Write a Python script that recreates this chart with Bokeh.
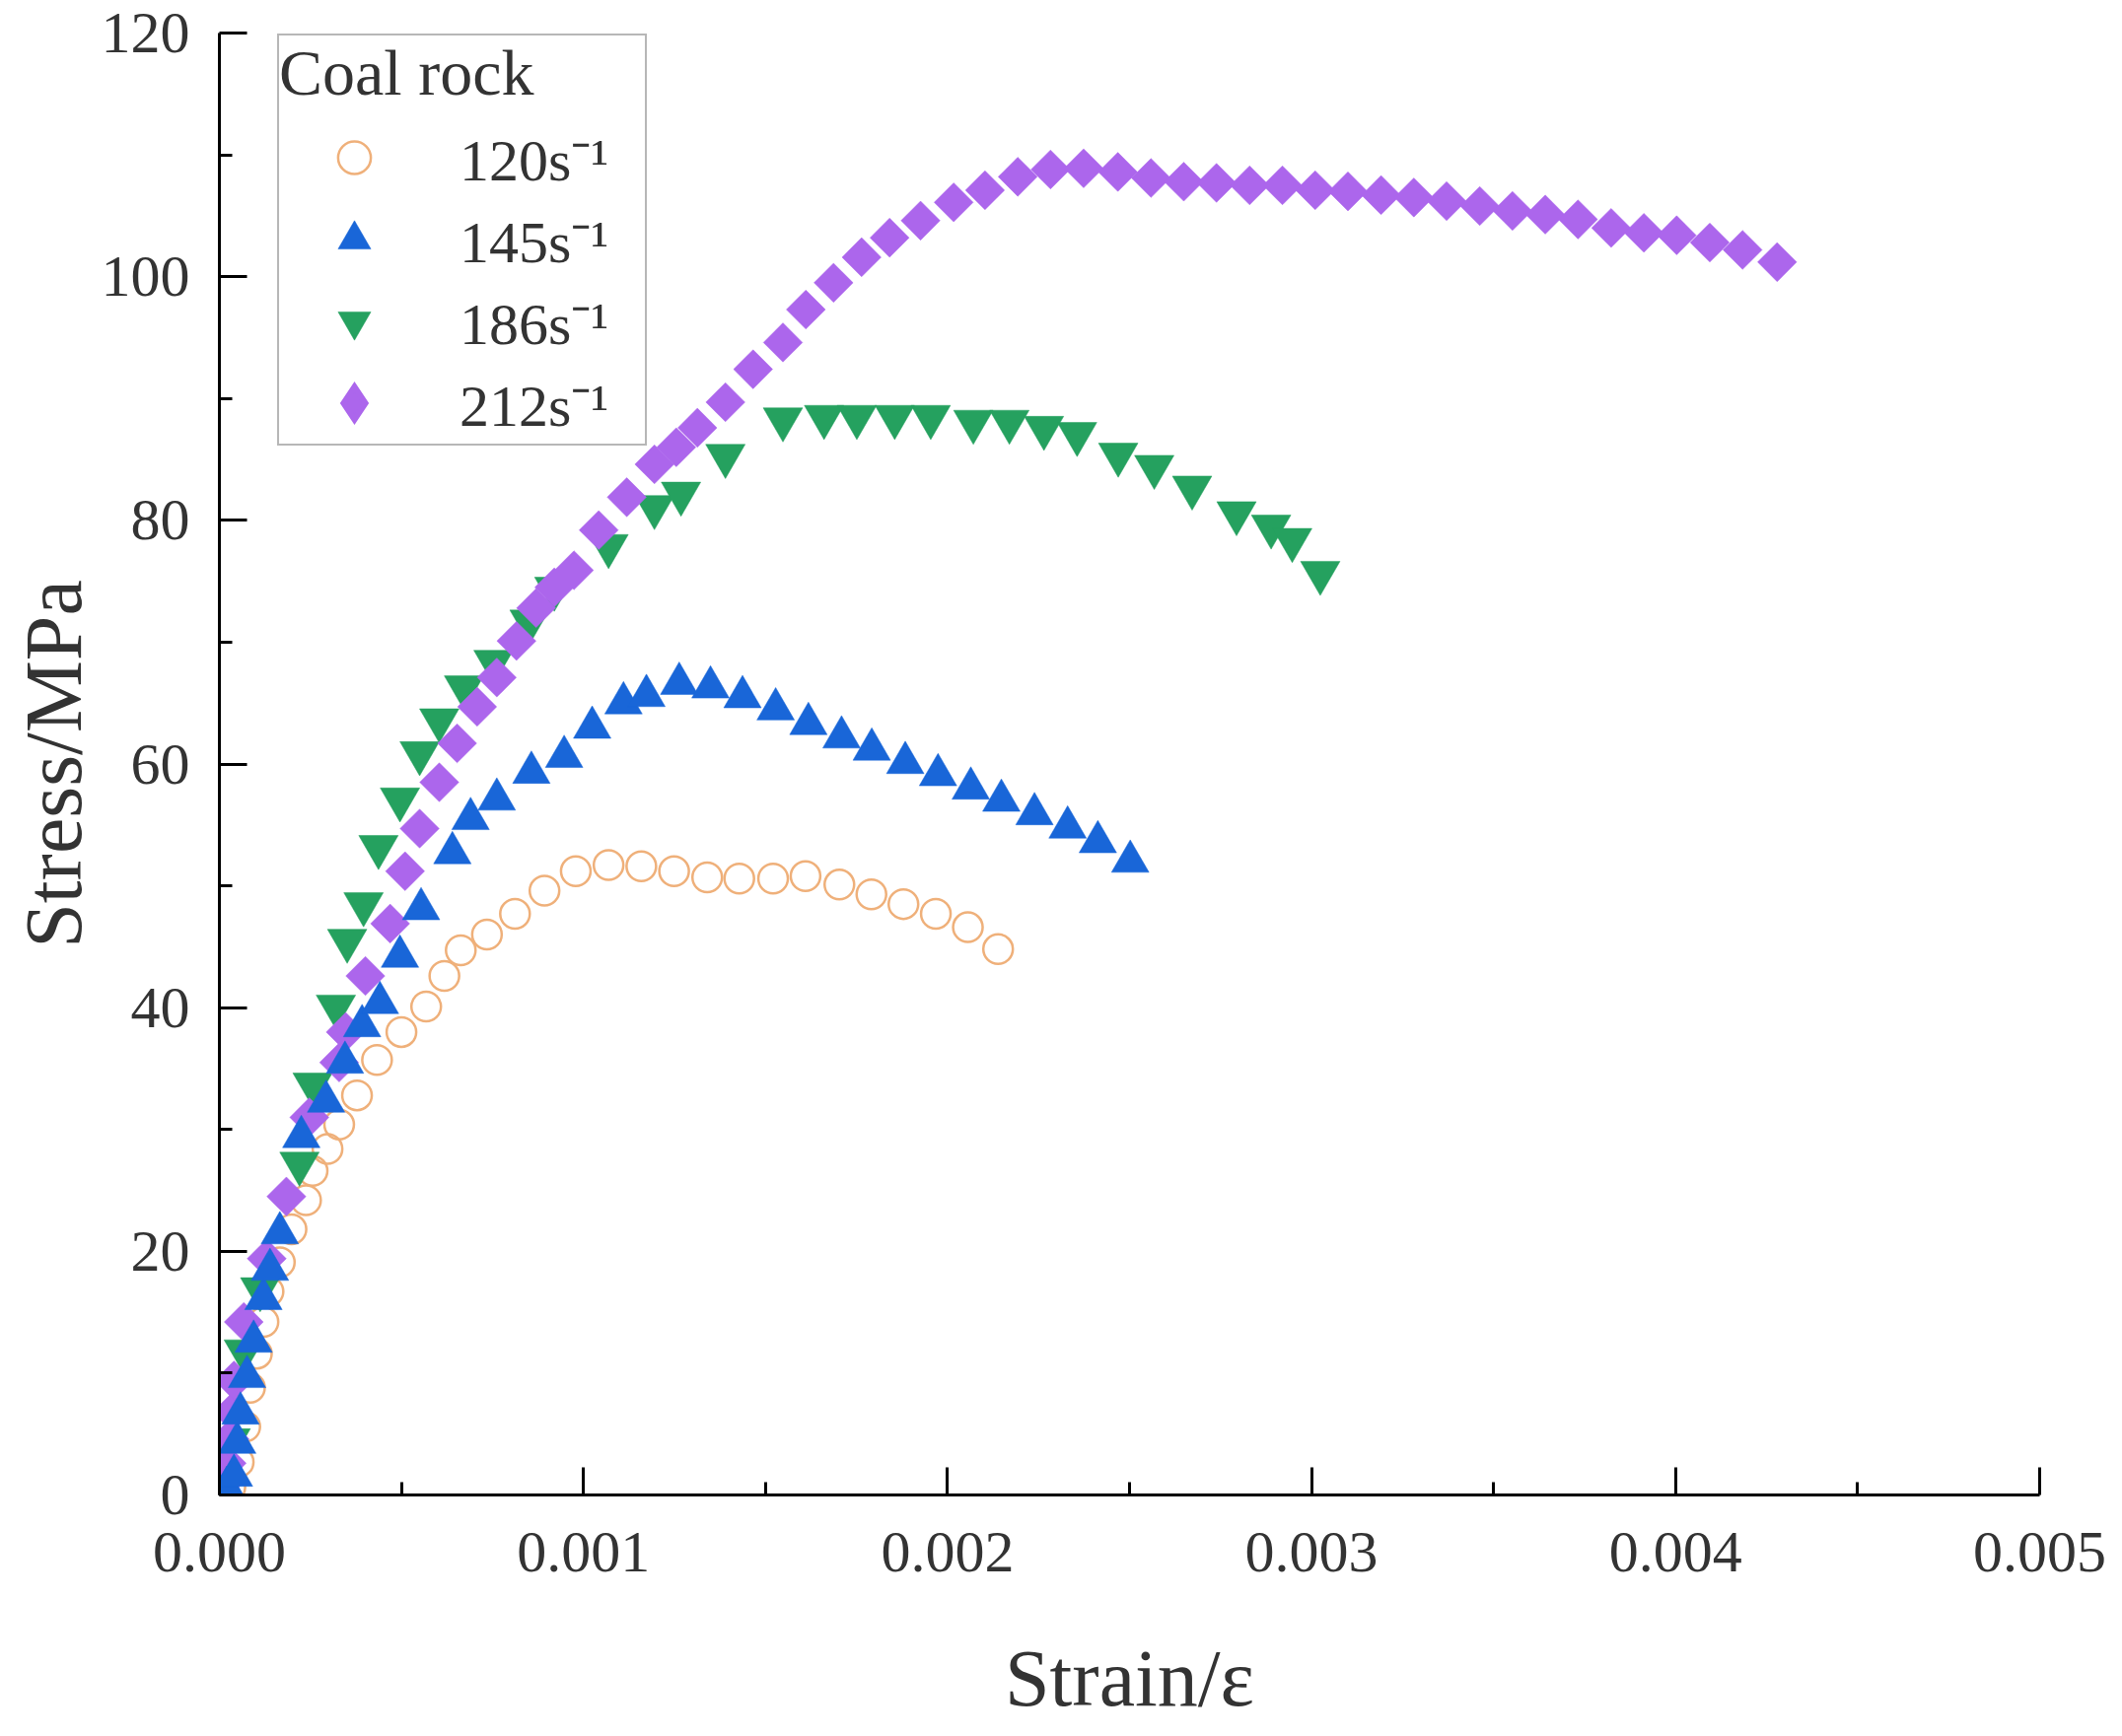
import numpy as np
from bokeh.plotting import figure
from bokeh.models import Range1d, FixedTicker, PrintfTickFormatter, Legend, LegendItem, ColumnDataSource
from bokeh.embed import file_html
from bokeh.resources import INLINE

# ---- data (strain in units of 1e-3, stress in MPa) ----
strain_120 = [0.010, 0.030, 0.053, 0.071, 0.084, 0.103, 0.121, 0.135, 0.166, 0.198,
              0.238, 0.256, 0.297, 0.329, 0.378, 0.433, 0.500, 0.568, 0.618, 0.663,
              0.735, 0.812, 0.893, 0.979, 1.069, 1.159, 1.249, 1.340, 1.428, 1.521,
              1.610, 1.703, 1.791, 1.879, 1.968, 2.056, 2.139]
stress_120 = [0.3, 0.6, 2.7, 5.6, 8.8, 11.6, 14.2, 16.7, 19.1, 21.8,
              24.2, 26.6, 28.4, 30.4, 32.8, 35.7, 38.0, 40.1, 42.6, 44.7,
              46.0, 47.7, 49.6, 51.2, 51.7, 51.6, 51.2, 50.7, 50.6, 50.6,
              50.8, 50.1, 49.3, 48.5, 47.7, 46.6, 44.8]

strain_145 = [0.020, 0.040, 0.049, 0.058, 0.076, 0.094, 0.121, 0.139, 0.166, 0.225,
              0.293, 0.345, 0.392, 0.441, 0.496, 0.554, 0.640, 0.690, 0.762, 0.857,
              0.947, 1.024, 1.110, 1.173, 1.263, 1.349, 1.437, 1.528, 1.618, 1.709,
              1.792, 1.884, 1.974, 2.064, 2.148, 2.239, 2.330, 2.413, 2.502]
stress_145 = [0.6, 1.6, 4.3, 6.7, 9.7, 12.6, 16.1, 18.5, 21.5, 29.4,
              32.3, 35.5, 38.5, 40.4, 44.2, 48.1, 52.7, 55.5, 57.1, 59.3,
              60.6, 63.0, 65.0, 65.6, 66.6, 66.3, 65.5, 64.5, 63.3, 62.2,
              61.2, 60.1, 59.1, 58.0, 57.0, 55.9, 54.8, 53.6, 52.0]

strain_186 = [0.010, 0.031, 0.067, 0.112, 0.220, 0.256, 0.320, 0.351, 0.396, 0.437,
              0.496, 0.550, 0.604, 0.672, 0.753, 0.852, 0.920, 1.069, 1.195, 1.268,
              1.390, 1.548, 1.661, 1.751, 1.855, 1.954, 2.071, 2.170, 2.265, 2.356,
              2.469, 2.568, 2.672, 2.794, 2.889, 2.947, 3.024]
stress_186 = [1.5, 4.5, 11.8, 16.9, 27.2, 33.7, 40.1, 45.5, 48.5, 53.2,
              57.1, 60.9, 63.6, 66.3, 68.4, 71.7, 74.4, 77.9, 81.1, 82.2,
              85.3, 88.3, 88.5, 88.5, 88.5, 88.5, 88.1, 88.1, 87.6, 87.1,
              85.4, 84.4, 82.7, 80.6, 79.5, 78.4, 75.7]

strain_212 = [0.012, 0.020, 0.028, 0.035, 0.040, 0.067, 0.130, 0.184, 0.247, 0.329,
              0.347, 0.401, 0.469, 0.510, 0.550, 0.604, 0.653, 0.708, 0.762, 0.816,
              0.870, 0.920, 0.974, 1.042, 1.119, 1.195, 1.255, 1.313, 1.390, 1.466,
              1.548, 1.611, 1.687, 1.764, 1.841, 1.926, 2.017, 2.103, 2.193, 2.283,
              2.374, 2.468, 2.559, 2.649, 2.739, 2.830, 2.920, 3.010, 3.100, 3.191,
              3.281, 3.371, 3.462, 3.552, 3.642, 3.732, 3.823, 3.913, 4.003, 4.094,
              4.184, 4.279]
stress_212 = [1.0, 2.6, 4.6, 6.8, 9.4, 14.2, 19.4, 24.5, 31.0, 35.5,
              38.0, 42.6, 46.9, 51.2, 54.7, 58.5, 61.7, 64.7, 67.1, 70.1,
              72.8, 74.5, 75.9, 79.2, 81.9, 84.6, 86.0, 87.6, 89.7, 92.4,
              94.6, 97.3, 99.5, 101.6, 103.2, 104.6, 106.1, 107.1, 108.2, 108.8,
              108.9, 108.6, 108.1, 107.8, 107.7, 107.5, 107.5, 107.1, 107.0, 106.7,
              106.5, 106.2, 105.8, 105.4, 105.1, 104.7, 104.0, 103.6, 103.4, 102.8,
              102.2, 101.2]

labels = ["120s\u207b\u00b9", "145s\u207b\u00b9", "186s\u207b\u00b9", "212s\u207b\u00b9"]
legend_title = "Coal rock"
x_ticks = [0.0, 0.001, 0.002, 0.003, 0.004, 0.005]
x_minor = [0.0005, 0.0015, 0.0025, 0.0035, 0.0045]
y_ticks = [0, 20, 40, 60, 80, 100, 120]
y_minor = [10, 30, 50, 70, 90, 110]

SERIF = "Liberation Serif"
W, H = 2150, 1758

p = figure(width=W, height=H, output_backend="svg", toolbar_location=None,
           x_range=Range1d(0, 0.0050001), y_range=Range1d(0, 120.001))
p.min_border_left = 222
p.min_border_right = W - 2068
p.min_border_top = 33
p.min_border_bottom = H - 1516
p.outline_line_color = None
p.xgrid.visible = False
p.ygrid.visible = False
p.background_fill_color = "white"
p.border_fill_color = "white"

def mk(sx, sy):
    return ColumnDataSource(dict(x=np.array(sx) * 1e-3, y=np.array(sy)))

c120 = "#EFB07A"
c145 = "#1966D8"
c186 = "#25A15F"
c212 = "#AC66EC"

src212 = mk(strain_212, stress_212)
r120 = p.scatter("x", "y", source=mk(strain_120, stress_120), marker="circle", size=30,
                 fill_color=None, line_color=c120, line_width=2.5)
r186 = p.scatter("x", "y", source=mk(strain_186, stress_186), marker="inverted_triangle", size=40,
                 fill_color=c186, line_color=c186, line_width=0.5)
r212 = p.scatter("x", "y", source=src212, marker="square", size=28,
                 angle=np.pi / 4, fill_color=c212, line_color=c212, line_width=0.5)
r145 = p.scatter("x", "y", source=mk(strain_145, stress_145), marker="triangle", size=38,
                 fill_color=c145, line_color=c145, line_width=0.5)
# legend swatch for the diamond series (legend glyphs ignore marker angle)
r212_key = p.scatter("x", "y", source=src212, marker="diamond", fill_color=c212,
                     line_color=c212, line_width=6, line_join="miter", visible=False)

for ax in (p.xaxis[0], p.yaxis[0]):
    ax.axis_line_width = 3
    ax.axis_line_color = "black"
    ax.major_tick_in = 28
    ax.major_tick_out = 0
    ax.minor_tick_in = 13
    ax.minor_tick_out = 0
    ax.major_tick_line_width = 3
    ax.minor_tick_line_width = 3
    ax.major_tick_line_color = "black"
    ax.minor_tick_line_color = "black"
    ax.major_label_text_font = SERIF
    ax.major_label_text_font_size = "60px"
    ax.major_label_text_color = "#333333"
    ax.axis_label_text_font = SERIF
    ax.axis_label_text_font_size = "82px"
    ax.axis_label_text_font_style = "normal"
    ax.axis_label_text_color = "#333333"

p.xaxis[0].ticker = FixedTicker(ticks=x_ticks, minor_ticks=x_minor)
p.xaxis[0].formatter = PrintfTickFormatter(format="%.3f")
p.yaxis[0].ticker = FixedTicker(ticks=y_ticks, minor_ticks=y_minor)
p.xaxis[0].axis_label = "Strain/\u03b5"
p.yaxis[0].axis_label = "Stress/MPa"
p.xaxis[0].major_label_standoff = 38
p.yaxis[0].major_label_standoff = 30
p.xaxis[0].axis_label_standoff = 60
p.yaxis[0].axis_label_standoff = 0

legend = Legend(items=[LegendItem(label=labels[0], renderers=[r120]),
                       LegendItem(label=labels[1], renderers=[r145]),
                       LegendItem(label=labels[2], renderers=[r186]),
                       LegendItem(label=labels[3], renderers=[r212_key])],
                title=legend_title, location=(59, 1064))
legend.title_text_font = SERIF
legend.title_text_font_size = "66px"
legend.title_text_font_style = "normal"
legend.title_text_color = "#333333"
legend.title_standoff = 6
legend.label_text_font = SERIF
legend.label_text_font_size = "60px"
legend.label_text_color = "#333333"
legend.glyph_width = 152
legend.glyph_height = 83
legend.label_height = 40
legend.label_width = 188
legend.label_standoff = 31
legend.spacing = 0
legend.padding = 0
legend.margin = 0
legend.border_line_color = "#6f6f6f"
legend.border_line_width = 2.5
legend.background_fill_color = "white"
legend.background_fill_alpha = 1.0
p.add_layout(legend)

open("out.html", "w").write(file_html(p, INLINE))
